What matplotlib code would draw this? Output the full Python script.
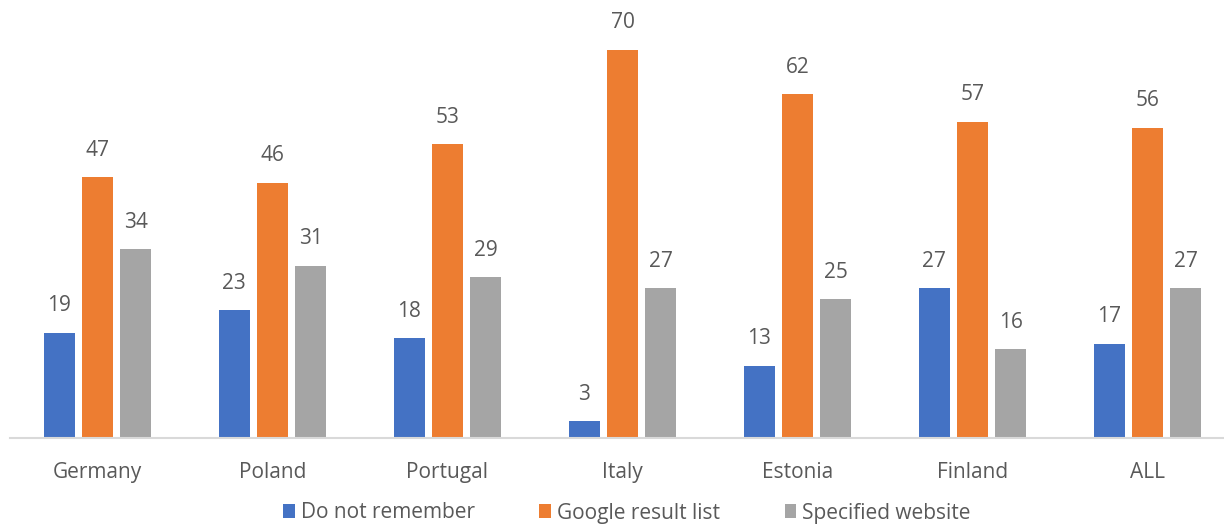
import matplotlib.pyplot as plt
import numpy as np

plt.rcParams['font.family'] = ['Open Sans', 'DejaVu Sans']

countries = ['Germany', 'Poland', 'Portugal', 'Italy', 'Estonia', 'Finland', 'ALL']
do_not_remember = [19, 23, 18, 3, 13, 27, 17]
google_list = [47, 46, 53, 70, 62, 57, 56]
specified_site = [34, 31, 29, 27, 25, 16, 27]

series = [
    ('Do not remember', do_not_remember, '#4472C4'),
    ('Google result list', google_list, '#ED7D31'),
    ('Specified website', specified_site, '#A5A5A5'),
]

text_color = '#595959'

fig = plt.figure(figsize=(12.24, 5.28), dpi=100)
ax = fig.add_axes([10 / 1224, 90 / 528, 1214 / 1224, 438 / 528])

x = np.arange(len(countries))
width = 0.178
step = 0.218

for i, (name, vals, color) in enumerate(series):
    pos = x + (i - 1) * step
    bars = ax.bar(pos, vals, width, color=color, label=name)
    for b, v in zip(bars, vals):
        ax.text(b.get_x() + b.get_width() / 2, v + 3.0, str(v),
                ha='center', va='bottom', fontsize=15, color=text_color)

ax.set_xlim(-0.5, -0.5 + 1214 / 175)
ax.set_ylim(0, 79)
ax.set_xticks(x)
ax.set_xticklabels(countries, fontsize=15, color=text_color)
ax.tick_params(axis='x', length=0, pad=17)
ax.set_yticks([])
for side in ['top', 'right', 'left']:
    ax.spines[side].set_visible(False)
ax.spines['bottom'].set_color('#D9D9D9')
ax.spines['bottom'].set_linewidth(1.5)

fig.legend(loc='center', bbox_to_anchor=(627 / 1224, 15 / 528), ncol=3,
           frameon=False, fontsize=15, handlelength=0.55, handleheight=0.65,
           handletextpad=0.3, columnspacing=3.1, labelcolor=text_color,
           borderpad=0.1)

fig.savefig('out.png', dpi=100)
